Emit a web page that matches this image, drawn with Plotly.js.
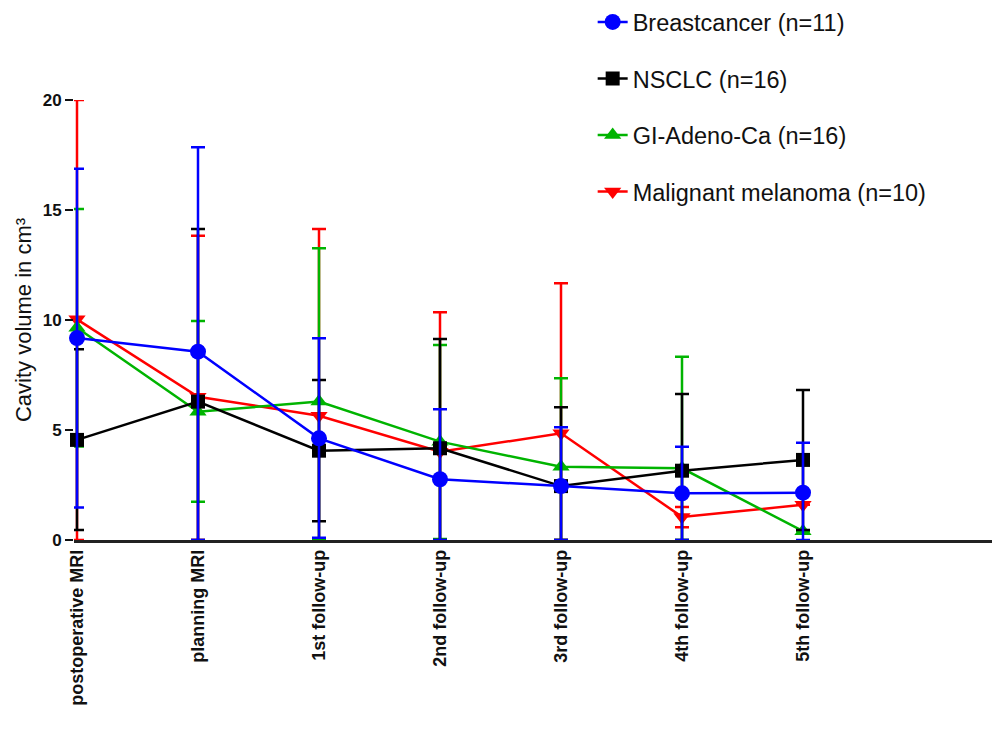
<!DOCTYPE html>
<html>
<head>
<meta charset="utf-8">
<script src="https://cdn.plot.ly/plotly-3.0.1.min.js"></script>
<style>html,body{margin:0;padding:0;background:#fff;}#chart{width:992px;height:732px;}</style>
</head>
<body>
<div id="chart"></div>
<script>
const categories = ['postoperative MRI','planning MRI','1st follow-up','2nd follow-up','3rd follow-up','4th follow-up','5th follow-up'];

const breastMean  = [9.18, 8.56, 4.62, 2.76, 2.45, 2.12, 2.15];
const breastUpper = [16.87, 17.85, 9.17, 5.94, 5.12, 4.24, 4.42];
const breastLower = [1.48, 0, 0.1, 0, 0, 0, 0];

const nsclcMean  = [4.55, 6.29, 4.06, 4.17, 2.45, 3.15, 3.64];
const nsclcUpper = [8.67, 14.14, 7.27, 9.14, 6.03, 6.64, 6.82];
const nsclcLower = [0.45, 0, 0.85, 0, 0, 0, 0.45];

const giMean  = [9.65, 5.83, 6.29, 4.47, 3.33, 3.26, 0.4];
const giUpper = [15.05, 9.95, 13.26, 8.86, 7.35, 8.33, 0.4];
const giLower = [4.25, 1.74, 0, 0.05, 0, 0, 0.4];

const melMean  = [10.03, 6.51, 5.65, 4.01, 4.85, 1.05, 1.6];
const melUpper = [20, 13.83, 14.14, 10.35, 11.67, 1.5, 1.6];
const melLower = [0, 0, 0, 0, 0, 0.58, 1.6];

const seriesNames = ['Breastcancer (n=11)','NSCLC (n=16)','GI-Adeno-Ca (n=16)','Malignant melanoma (n=10)'];

const xIdx = categories.map((c,i)=>i);

function mk(name, rank, mean, up, lo, color, symbol, size){
  return {
    type:'scatter', mode:'lines+markers', name:name, legendgroup:name, legendrank:rank,
    x:xIdx, y:mean, cliponaxis:false,
    line:{color:color, width:2.5},
    marker:{color:color, symbol:symbol, size:size},
    error_y:{type:'data', symmetric:false,
      array: up.map((u,i)=>u-mean[i]),
      arrayminus: lo.map((l,i)=>mean[i]-l),
      color:color, thickness:2.5, width:7}
  };
}

const traces = [
  mk(seriesNames[3], 4, melMean, melUpper, melLower, '#ff0000', 'triangle-down', 15),
  mk(seriesNames[2], 3, giMean, giUpper, giLower, '#00b400', 'triangle-up', 15),
  mk(seriesNames[1], 2, nsclcMean, nsclcUpper, nsclcLower, '#000000', 'square', 14),
  mk(seriesNames[0], 1, breastMean, breastUpper, breastLower, '#0000ff', 'circle', 16)
];

const fontFam = 'Arial, "Liberation Sans", sans-serif';

const layout = {
  width:992, height:732,
  margin:{l:74, r:0, t:100, b:192},
  paper_bgcolor:'#fff', plot_bgcolor:'#fff',
  showlegend:true,
  legend:{x:0.565, y:1.227, xanchor:'left', yanchor:'top',
    traceorder:'grouped', tracegroupgap:23,
    font:{family:fontFam, size:23.5, color:'#111'}, bgcolor:'rgba(0,0,0,0)'},
  xaxis:{
    range:[-0.0248, 7.562], tickmode:'array', tickvals:xIdx, ticktext:categories,
    tickangle:-90, showline:true, linecolor:'#222', linewidth:2.5,
    ticks:'', showgrid:false, zeroline:false,
    tickfont:{family:fontFam, size:18, weight:'bold', color:'#111'}
  },
  yaxis:{
    range:[0,20], tickvals:[0,5,10,15,20], showline:false,
    ticks:'outside', ticklen:8, tickwidth:2.5, tickcolor:'#111',
    showgrid:false, zeroline:false,
    tickfont:{family:fontFam, size:17, weight:'bold', color:'#111'},
    title:{text:'Cavity volume in cm³', standoff:4, font:{family:fontFam, size:22, color:'#111'}}
  }
};

Plotly.newPlot('chart', traces, layout, {displayModeBar:false, staticPlot:true});
</script>
</body>
</html>
